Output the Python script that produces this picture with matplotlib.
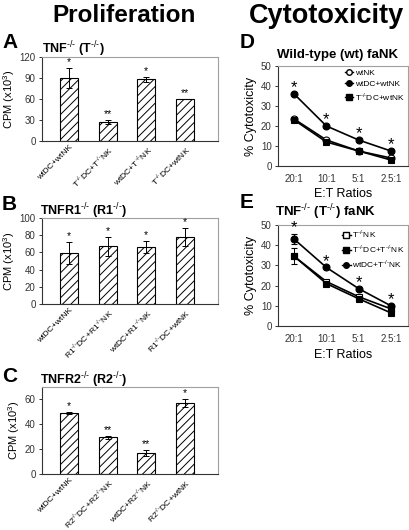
import matplotlib.pyplot as plt
from matplotlib.lines import Line2D

plt.rcParams['font.family'] = ['Liberation Sans', 'DejaVu Sans']
plt.rcParams['mathtext.fontset'] = 'custom'
plt.rcParams['mathtext.rm'] = 'Liberation Sans'
plt.rcParams['mathtext.bf'] = 'Liberation Sans:bold'
plt.rcParams['hatch.linewidth'] = 0.7

KO = r'$^{\text{-/-}}$'
KOB = r'$^{\mathbf{\text{-/-}}}$'

# proliferation data (CPM x10^3)
labels_a = ['wtDC+wtNK', 'T' + KO + 'DC+T' + KO + 'NK', 'wtDC+T' + KO + 'NK', 'T' + KO + 'DC+wtNK']
vals_a = [90, 27, 88, 60]
err_a = [14, 3, 3, 0.5]
stars_a = ['*', '**', '*', '**']

labels_b = ['wtDC+wtNK', 'R1' + KO + 'DC+R1' + KO + 'NK', 'wtDC+R1' + KO + 'NK', 'R1' + KO + 'DC+wtNK']
vals_b = [59, 67, 66, 78]
err_b = [13, 11, 7, 10]
stars_b = ['*', '*', '*', '*']

labels_c = ['wtDC+wtNK', 'R2' + KO + 'DC+R2' + KO + 'NK', 'wtDC+R2' + KO + 'NK', 'R2' + KO + 'DC+wtNK']
vals_c = [49, 29.5, 17, 57]
err_c = [1, 1, 2.5, 3]
stars_c = ['*', '**', '**', '*']

# cytotoxicity data (%)
ratios = ['20:1', '10:1', '5:1', '2.5:1']
d_wtnk = [23.5, 13, 7.5, 4]
d_wtdc = [36, 20, 13, 7.5]
d_tdc = [23, 12, 7.5, 3]

e_tnk = [34.5, 22, 14.5, 8.5]
e_tdc = [34.5, 21, 13.5, 6.5]
e_tdc_err = [4, 0, 0, 0]
e_wtdc = [43, 29, 18.5, 10]
e_wtdc_err = [2.5, 0, 0, 0]

W, H = 410, 530


def px_axes(fig, x0, y0, x1, y1):
    return fig.add_axes([x0 / W, 1 - y1 / H, (x1 - x0) / W, (y1 - y0) / H])


def style(ax):
    for s in ['top', 'right']:
        ax.spines[s].set_color('#a0a0a0')
    for s in ['left', 'bottom']:
        ax.spines[s].set_color('#333333')
    for s in ax.spines.values():
        s.set_linewidth(0.8)
    ax.tick_params(axis='y', labelsize=7, length=2.5, width=0.7, pad=2, colors='#333333')


def bar_panel(ax, labels, vals, errs, stars, ymax, step):
    x = list(range(len(vals)))
    ax.bar(x, vals, width=0.47, color='white', edgecolor='black', hatch='////', linewidth=0.8)
    ax.errorbar(x, vals, yerr=errs, fmt='none', ecolor='black', elinewidth=0.7, capsize=2.5, capthick=0.7)
    for xi, v, e, s in zip(x, vals, errs, stars):
        ax.text(xi, v + e + ymax * 0.01, s, ha='center', va='bottom', fontsize=7.5)
    ax.set_xlim(-0.7, 3.86)
    ax.set_ylim(0, ymax)
    ax.set_yticks(range(0, int(ymax) + 1, step))
    ax.set_xticks(x)
    ax.set_xticklabels(labels, rotation=45, ha='right', rotation_mode='anchor', fontsize=6.1)
    ax.tick_params(axis='x', length=0, pad=2)
    ax.set_ylabel('CPM (x10$^{\\mathregular{3}}$)', fontsize=8, labelpad=2)
    style(ax)


def line_panel(ax, series, stars_y):
    x = list(range(len(ratios)))
    for vals, err, mk, fc in series:
        ax.errorbar(x, vals, yerr=err, color='black', lw=1.2, marker=mk, ms=5,
                    mfc=fc, mec='black', mew=0.8, elinewidth=0.7, capsize=2)
    for xi, v in zip(x, stars_y):
        ax.text(xi, v + 3, '*', ha='center', va='center', fontsize=12)
    ax.set_xlim(-0.5, 3.53)
    ax.set_ylim(0, 50)
    ax.set_yticks(range(0, 51, 10))
    ax.set_xticks(x)
    ax.set_xticklabels(ratios, fontsize=7)
    ax.tick_params(axis='x', length=0, pad=6, colors='#333333')
    ax.set_ylabel('% Cytotoxicity', fontsize=9, labelpad=3)
    ax.set_xlabel('E:T Ratios', fontsize=9, labelpad=3)
    style(ax)


def small_legend(ax, markers, labels):
    handles = [Line2D([], [], color='black', lw=1, marker=m, mfc=fc, mec='black', ms=4)
               for m, fc in markers]
    ax.legend(handles=handles, labels=labels, loc='upper right', fontsize=6,
              frameon=False, handlelength=1.0, handletextpad=0.2, labelspacing=0.35,
              borderaxespad=0.2, borderpad=0.2)


fig = plt.figure(figsize=(4.1, 5.3), dpi=100)

fig.text(124 / W, 1 - 16 / H, 'Proliferation', ha='center', va='center', fontsize=17.5, fontweight='bold')
fig.text(327 / W, 1 - 16 / H, 'Cytotoxicity', ha='center', va='center', fontsize=19.5, fontweight='bold')

axA = px_axes(fig, 42, 57, 218, 141)
bar_panel(axA, labels_a, vals_a, err_a, stars_a, 120, 30)
axB = px_axes(fig, 42, 218, 218, 304)
bar_panel(axB, labels_b, vals_b, err_b, stars_b, 100, 20)
axC = px_axes(fig, 42, 387, 218, 474)
bar_panel(axC, labels_c, vals_c, err_c, stars_c, 70, 20)

fig.text(2 / W, 1 - 43 / H, 'A', fontsize=15, fontweight='bold', va='center')
fig.text(2 / W, 1 - 205 / H, 'B', fontsize=15, fontweight='bold', va='center')
fig.text(2 / W, 1 - 377 / H, 'C', fontsize=15, fontweight='bold', va='center')
fig.text(42 / W, 1 - 49 / H, 'TNF' + KOB + ' (T' + KOB + ')', fontsize=9, fontweight='bold', va='center')
fig.text(40 / W, 1 - 211 / H, 'TNFR1' + KOB + ' (R1' + KOB + ')', fontsize=9, fontweight='bold', va='center')
fig.text(40 / W, 1 - 380 / H, 'TNFR2' + KOB + ' (R2' + KOB + ')', fontsize=9, fontweight='bold', va='center')

axD = px_axes(fig, 278, 66, 408, 166)
line_panel(axD, [(d_wtnk, None, 'o', 'white'),
                 (d_wtdc, None, 'o', 'black'),
                 (d_tdc, None, 's', 'black')], d_wtdc)
small_legend(axD, [('o', 'white'), ('o', 'black'), ('s', 'black')],
             ['wtNK', 'wtDC+wtNK', 'T' + KO + 'DC+wtNK'])

axE = px_axes(fig, 278, 225, 408, 326)
line_panel(axE, [(e_tnk, None, 's', 'white'),
                 (e_tdc, e_tdc_err, 's', 'black'),
                 (e_wtdc, e_wtdc_err, 'o', 'black')],
           [v + e for v, e in zip(e_wtdc, e_wtdc_err)])
small_legend(axE, [('s', 'white'), ('s', 'black'), ('o', 'black')],
             ['T' + KO + 'NK', 'T' + KO + 'DC+T' + KO + 'NK', 'wtDC+T' + KO + 'NK'])

fig.text(240 / W, 1 - 43 / H, 'D', fontsize=15, fontweight='bold', va='center')
fig.text(240 / W, 1 - 203 / H, 'E', fontsize=15, fontweight='bold', va='center')
fig.text(277 / W, 1 - 55 / H, 'Wild-type (wt) faNK', fontsize=9.5, fontweight='bold', va='center')
fig.text(275 / W, 1 - 212 / H, 'TNF' + KOB + ' (T' + KOB + ') faNK', fontsize=9.5, fontweight='bold', va='center')

fig.savefig('out.png', dpi=100)
